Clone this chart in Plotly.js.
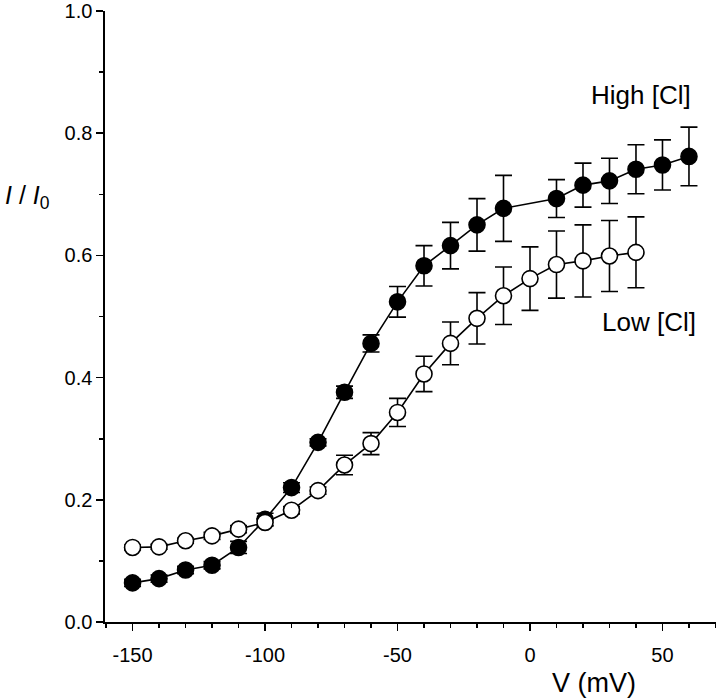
<!DOCTYPE html>
<html>
<head>
<meta charset="utf-8">
<script src="https://cdn.plot.ly/plotly-3.0.1.min.js"></script>
<style>
  html, body { margin: 0; padding: 0; background: #fff; }
  #plot { width: 720px; height: 700px; }
</style>
</head>
<body>
<div id="plot"></div>
<script>
// membrane potential (mV)
const highV = [-150, -140, -130, -120, -110, -100, -90, -80, -70, -60, -50, -40, -30, -20, -10, 10, 20, 30, 40, 50, 60];
const highI = [0.064, 0.071, 0.085, 0.093, 0.122, 0.168, 0.220, 0.294, 0.376, 0.456, 0.524, 0.583, 0.616, 0.650, 0.677, 0.693, 0.715, 0.722, 0.741, 0.748, 0.762];
const highErr = [0.006, 0.006, 0.006, 0.006, 0.010, 0.010, 0.008, 0.006, 0.010, 0.014, 0.025, 0.033, 0.038, 0.043, 0.054, 0.031, 0.036, 0.037, 0.040, 0.041, 0.048];

const lowV = [-150, -140, -130, -120, -110, -100, -90, -80, -70, -60, -50, -40, -30, -20, -10, 0, 10, 20, 30, 40];
const lowI = [0.122, 0.123, 0.133, 0.141, 0.152, 0.163, 0.183, 0.215, 0.257, 0.292, 0.343, 0.406, 0.456, 0.497, 0.534, 0.562, 0.585, 0.591, 0.599, 0.605];
const lowErr = [0.004, 0.004, 0.004, 0.006, 0.006, 0.006, 0.006, 0.006, 0.016, 0.018, 0.023, 0.029, 0.035, 0.042, 0.047, 0.052, 0.055, 0.059, 0.058, 0.058];

const xTicks = [-150, -100, -50, 0, 50];
const yTicks = [0.0, 0.2, 0.4, 0.6, 0.8, 1.0];

const FONT = 'Arial, "Liberation Sans", sans-serif';

function series(x, y, err, fill) {
    return {
        x: x,
        y: y,
        type: 'scatter',
        mode: 'lines+markers',
        line: { color: 'black', width: 1.6 },
        marker: { size: 16, color: fill, line: { color: 'black', width: 1.6 } },
        error_y: { type: 'data', array: err, visible: true, color: 'black', thickness: 1.6, width: 8.5 },
        showlegend: false,
        cliponaxis: false
    };
}

let data = [
    series(highV, highI, highErr, 'black'),
    series(lowV, lowI, lowErr, 'white')
];

let axisCommon = {
    showline: true,
    linecolor: 'black',
    linewidth: 1.6,
    ticks: 'outside',
    ticklen: 7,
    tickwidth: 1.6,
    tickcolor: 'black',
    showgrid: false,
    zeroline: false,
    tickfont: { family: FONT, size: 20, color: 'black' }
};

let layout = {
    width: 720,
    height: 700,
    margin: { l: 105, r: 4, t: 11, b: 78 },
    paper_bgcolor: 'white',
    plot_bgcolor: 'white',
    font: { family: FONT, color: 'black' },
    xaxis: Object.assign({}, axisCommon, {
        range: [-160.4, 70.2],
        tickvals: xTicks,
        ticktext: xTicks.map(String),
        ticklabelstandoff: 7,
        minor: { dtick: 10, tick0: 0, ticks: 'outside', ticklen: 4, tickwidth: 1.6, tickcolor: 'black', showgrid: false }
    }),
    yaxis: Object.assign({}, axisCommon, {
        range: [0, 1.0],
        tickvals: yTicks,
        ticktext: yTicks.map(v => v.toFixed(1)),
        minor: { dtick: 0.1, tick0: 0, ticks: 'outside', ticklen: 4, tickwidth: 1.6, tickcolor: 'black', showgrid: false }
    }),
    annotations: [
        { text: 'V (mV)', xref: 'paper', yref: 'paper', x: 0.80, y: -0.10, xanchor: 'center', yanchor: 'middle',
          showarrow: false, font: { family: FONT, size: 27, color: 'black' } },
        { text: '<i>I</i> / <i>I</i><sub>0</sub>', xref: 'paper', yref: 'paper', x: -0.167, y: 0.696,
          xanchor: 'left', yanchor: 'middle', showarrow: false, font: { family: FONT, size: 25, color: 'black' } },
        { text: 'High [Cl]', xref: 'x', yref: 'y', x: 42, y: 0.8625, xanchor: 'center', yanchor: 'middle',
          showarrow: false, font: { family: FONT, size: 26, color: 'black' } },
        { text: 'Low [Cl]', xref: 'x', yref: 'y', x: 45, y: 0.491, xanchor: 'center', yanchor: 'middle',
          showarrow: false, font: { family: FONT, size: 26, color: 'black' } }
    ]
};

let config = { displayModeBar: false, staticPlot: true };

Plotly.newPlot('plot', data, layout, config);
</script>
</body>
</html>
